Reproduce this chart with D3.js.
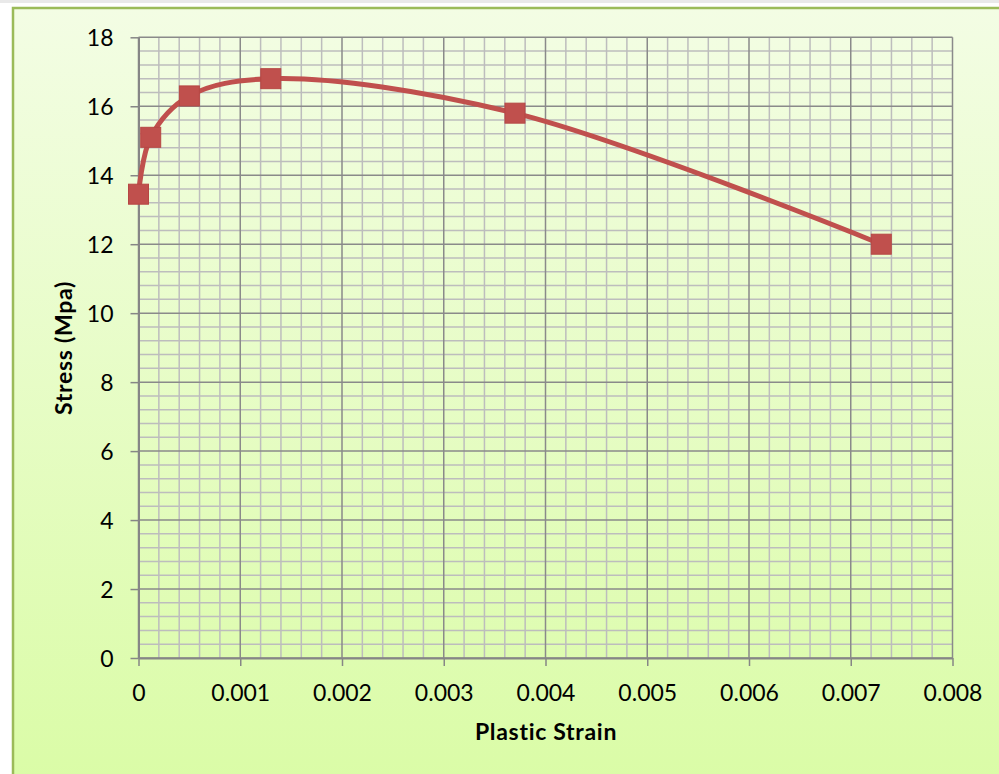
<!DOCTYPE html>
<html>
<head>
<meta charset="utf-8">
<script src="https://cdn.jsdelivr.net/npm/d3@7"></script>
<style>
  html, body { margin: 0; padding: 0; background: #ffffff; overflow: hidden; }
  svg { display: block; }
  text { font-family: Lato, "Open Sans", sans-serif; fill: #000; }
</style>
</head>
<body>
<svg id="chart" width="999" height="774"></svg>
<script>
// Stress vs. plastic strain measurements
const strain = [0, 0.00012, 0.0005, 0.0013, 0.0037, 0.0073];
const stress = [13.45, 15.1, 16.3, 16.8, 15.8, 12.0];

// Axis ticks
const xTicks = [0, 0.001, 0.002, 0.003, 0.004, 0.005, 0.006, 0.007, 0.008];
const xTickLabels = ["0", "0.001", "0.002", "0.003", "0.004", "0.005", "0.006", "0.007", "0.008"];
const yTicks = [0, 2, 4, 6, 8, 10, 12, 14, 16, 18];
const yTickLabels = ["0", "2", "4", "6", "8", "10", "12", "14", "16", "18"];

const xTitle = "Plastic Strain";
const yTitle = "Stress (Mpa)";

const svg = d3.select("#chart");

// Chart area background
const defs = svg.append("defs");
const grad = defs.append("linearGradient")
  .attr("id", "bg").attr("x1", 0).attr("y1", 0).attr("x2", 0).attr("y2", 1);
grad.append("stop").attr("offset", "0%").attr("stop-color", "#f3fde4");
grad.append("stop").attr("offset", "100%").attr("stop-color", "#dafca6");

svg.append("rect").attr("x", 0).attr("y", 0).attr("width", 999).attr("height", 3)
  .attr("fill", "#e9e9e9");
svg.append("rect")
  .attr("x", 13).attr("y", 8).attr("width", 1000).attr("height", 780)
  .attr("fill", "url(#bg)")
  .attr("stroke", "#9bbb59").attr("stroke-width", 2.5);

// Plot area
const plot = { left: 138.5, right: 952.5, top: 37.3, bottom: 658 };

const x = d3.scaleLinear().domain([0, 0.008]).range([plot.left, plot.right]);
const y = d3.scaleLinear().domain([0, 18]).range([plot.bottom, plot.top]);

// Minor gridlines
const xMinor = d3.range(0, 41).map(i => i * 0.0002).filter((v, i) => i % 5 !== 0);
const yMinor = d3.range(0, 46).map(i => i * 0.4).filter((v, i) => i % 5 !== 0);

const grid = svg.append("g");
grid.selectAll(".xminor").data(xMinor).join("line")
  .attr("x1", d => x(d)).attr("x2", d => x(d))
  .attr("y1", plot.top).attr("y2", plot.bottom)
  .attr("stroke", "#bdbdbd").attr("stroke-width", 1.5);
grid.selectAll(".yminor").data(yMinor).join("line")
  .attr("x1", plot.left).attr("x2", plot.right)
  .attr("y1", d => y(d)).attr("y2", d => y(d))
  .attr("stroke", "#bdbdbd").attr("stroke-width", 1.5);

// Major gridlines
grid.selectAll(".xmajor").data(xTicks).join("line")
  .attr("x1", d => x(d)).attr("x2", d => x(d))
  .attr("y1", plot.top).attr("y2", plot.bottom)
  .attr("stroke", "#8a8a8a").attr("stroke-width", 1.5);
grid.selectAll(".ymajor").data(yTicks).join("line")
  .attr("x1", plot.left).attr("x2", plot.right)
  .attr("y1", d => y(d)).attr("y2", d => y(d))
  .attr("stroke", "#8a8a8a").attr("stroke-width", 1.5);

// Axes
const xAxis = d3.axisBottom(x).tickValues(xTicks)
  .tickFormat((d, i) => xTickLabels[i]).tickSize(8).tickSizeOuter(0).tickPadding(11);
const yAxis = d3.axisLeft(y).tickValues(yTicks)
  .tickFormat((d, i) => yTickLabels[i]).tickSize(8).tickSizeOuter(0).tickPadding(17);

const gx = svg.append("g").attr("transform", `translate(0,${plot.bottom})`).call(xAxis);
const gy = svg.append("g").attr("transform", `translate(${plot.left},0)`).call(yAxis);

[gx, gy].forEach(g => {
  g.select(".domain").attr("stroke", "#868686").attr("stroke-width", 2);
  g.selectAll(".tick line").attr("stroke", "#868686").attr("stroke-width", 1.5);
  g.selectAll(".tick text").attr("font-family", "Lato, sans-serif")
    .attr("font-size", 23).attr("fill", "#000");
});
gx.selectAll(".tick text").attr("dy", 0).attr("y", 42.5);
gy.selectAll(".tick text").attr("dy", "0.35em");

// Axis titles
svg.append("text")
  .attr("x", 546).attr("y", 740)
  .attr("text-anchor", "middle")
  .attr("font-size", 23).attr("font-weight", "bold")
  .attr("letter-spacing", 0.7)
  .text(xTitle);

svg.append("text")
  .attr("transform", "translate(72,348) rotate(-90)")
  .attr("text-anchor", "middle")
  .attr("font-size", 23).attr("font-weight", "bold")
  .attr("letter-spacing", 0.7)
  .text(yTitle);

// Smoothed series line
const pts = strain.map((s, i) => [s, stress[i]]);
const line = d3.line()
  .x(d => x(d[0])).y(d => y(d[1]))
  .curve(d3.curveCatmullRom.alpha(0.5));

svg.append("path")
  .datum(pts)
  .attr("d", line)
  .attr("fill", "none")
  .attr("stroke", "#c0504d")
  .attr("stroke-width", 5)
  .attr("stroke-linejoin", "round");

// Square markers
const m = 20;
svg.selectAll(".marker").data(pts).join("rect")
  .attr("x", d => x(d[0]) - m / 2)
  .attr("y", d => y(d[1]) - m / 2)
  .attr("width", m).attr("height", m)
  .attr("fill", "#c0504d")
  .attr("stroke", "#b64744").attr("stroke-width", 1);
</script>
</body>
</html>
